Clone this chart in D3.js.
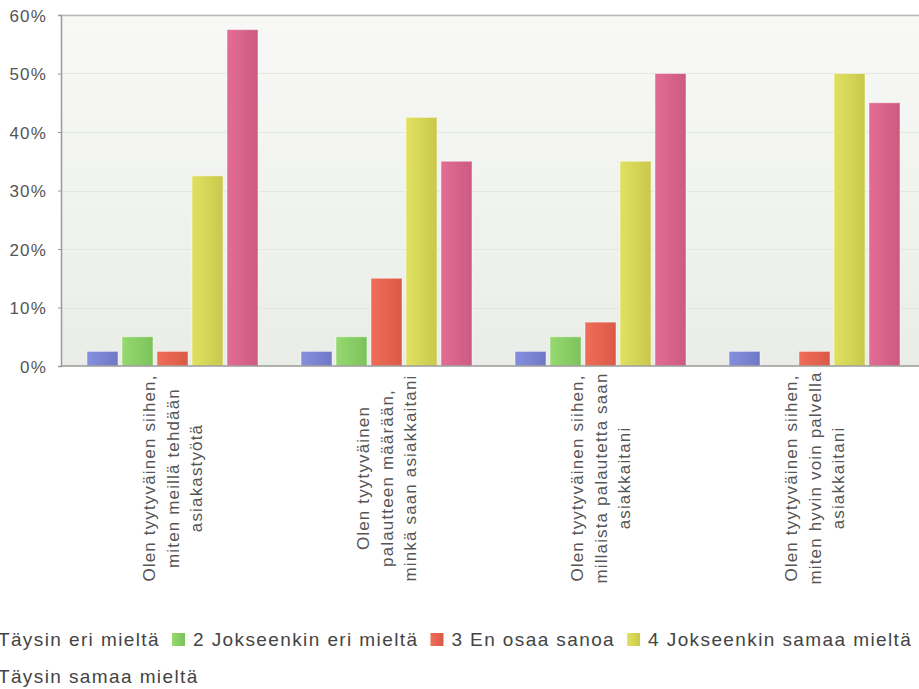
<!DOCTYPE html>
<html>
<head>
<meta charset="utf-8">
<script src="https://cdn.jsdelivr.net/npm/d3@7"></script>
<style>
  html, body { margin: 0; padding: 0; background: #fff; overflow: hidden; }
  svg { display: block; font-family: "Liberation Sans", Arial, sans-serif; }
</style>
</head>
<body>
<svg id="chart" width="919" height="689"></svg>
<script>
// Survey statements (category axis), each split into its display lines
const categories = [
  ["Olen tyytyväinen siihen,", "miten meillä tehdään", "asiakastyötä"],
  ["Olen tyytyväinen", "palautteen määrään,", "minkä saan asiakkaitani"],
  ["Olen tyytyväinen siihen,", "millaista palautetta saan", "asiakkaitani"],
  ["Olen tyytyväinen siihen,", "miten hyvin voin palvella", "asiakkaitani"]
];

// Answer options (series)
const seriesNames = [
  "1 Täysin eri mieltä",
  "2 Jokseenkin eri mieltä",
  "3 En osaa sanoa",
  "4 Jokseenkin samaa mieltä",
  "5 Täysin samaa mieltä"
];

// Share of answers (%) per option, one value per statement
const s1 = [2.5, 2.5, 2.5, 2.5];
const s2 = [5, 5, 5, 0];
const s3 = [2.5, 15, 7.5, 2.5];
const s4 = [32.5, 42.5, 35, 50];
const s5 = [57.5, 35, 50, 45];
const seriesValues = [s1, s2, s3, s4, s5];

const yTicks = [0, 10, 20, 30, 40, 50, 60];

// Colour pairs (light edge, dark edge) for each series
const seriesColors = [
  ["#858fdf", "#6e78c6"],
  ["#96d971", "#7cc25a"],
  ["#f06e58", "#da5946"],
  ["#e0e160", "#c9c84d"],
  ["#e26c94", "#cd5a82"]
];

const svg = d3.select("#chart");
const defs = svg.append("defs");

const plot = { left: 61, top: 14, bottom: 366, right: 919 };

// plot background gradient
const bg = defs.append("linearGradient").attr("id", "bgGrad")
  .attr("x1", 0).attr("y1", 0).attr("x2", 0).attr("y2", 1);
bg.append("stop").attr("offset", "0%").attr("stop-color", "#f8f9f7");
bg.append("stop").attr("offset", "100%").attr("stop-color", "#eaede7");

seriesColors.forEach((c, i) => {
  const g = defs.append("linearGradient").attr("id", "barGrad" + i)
    .attr("x1", 0).attr("y1", 0).attr("x2", 1).attr("y2", 0);
  g.append("stop").attr("offset", "0%").attr("stop-color", c[0]);
  g.append("stop").attr("offset", "100%").attr("stop-color", c[1]);
});

svg.append("rect")
  .attr("x", plot.left).attr("y", plot.top)
  .attr("width", plot.right - plot.left).attr("height", plot.bottom - plot.top)
  .attr("fill", "url(#bgGrad)");

const y = d3.scaleLinear().domain([0, 60]).range([366, 15]);

const x0 = d3.scaleBand()
  .domain(d3.range(categories.length))
  .range([65.5, 65.5 + 214 * categories.length]);

const x1 = d3.scaleBand()
  .domain(d3.range(seriesNames.length))
  .range([19.5, 194.5])
  .paddingInner(4 / 35)
  .paddingOuter(2 / 35);

// horizontal grid lines
svg.append("g").selectAll("line")
  .data(yTicks.filter(t => t > 0))
  .join("line")
  .attr("x1", plot.left).attr("x2", plot.right)
  .attr("y1", d => Math.round(y(d)) + 0.5).attr("y2", d => Math.round(y(d)) + 0.5)
  .attr("stroke", d => d === 60 ? "#b8b8b8" : "#e3e6e1")
  .attr("stroke-width", d => d === 60 ? 1.5 : 1);

// bars
const groups = svg.append("g").selectAll("g")
  .data(seriesValues)
  .join("g")
  .attr("fill", (d, i) => `url(#barGrad${i})`);

groups.each(function(vals, si) {
  d3.select(this).selectAll("rect")
    .data(vals.map((v, ci) => ({ v, ci })).filter(d => d.v > 0))
    .join("rect")
    .attr("x", d => x0(d.ci) + x1(si))
    .attr("width", x1.bandwidth())
    .attr("y", d => y(d.v))
    .attr("height", d => y(0) - y(d.v))
    .attr("stroke", "rgba(255,255,255,0.45)")
    .attr("stroke-width", 1);
});

// y axis
const yAxis = d3.axisLeft(y)
  .tickValues(yTicks)
  .tickFormat(d => d + "%")
  .tickSize(3)
  .tickPadding(11);

const yg = svg.append("g")
  .attr("transform", `translate(${plot.left},0)`)
  .call(yAxis);
yg.select(".domain").attr("stroke", "#9a9a9a").attr("stroke-width", 1.5);
yg.selectAll(".tick line").attr("stroke", "#9a9a9a");
yg.selectAll(".tick text")
  .attr("fill", "#555")
  .attr("dy", "0.36em")
  .style("font-size", "17px")
  .style("letter-spacing", "1.2px")
  .style("font-family", "Liberation Sans, Arial, sans-serif");

// x axis baseline
const xAxis = d3.axisBottom(x0).tickSize(0).tickFormat("");
const xg = svg.append("g")
  .attr("transform", `translate(0,${y(0)})`)
  .call(xAxis);
xg.select(".domain").attr("d", `M${plot.left},0H${plot.right}`)
  .attr("stroke", "#9a9a9a").attr("stroke-width", 1.5);

// rotated, multi-line category labels
const labelCenterY = 478;
const lineStep = 23.5;
const catLabels = svg.append("g").selectAll("text")
  .data(categories)
  .join("text")
  .attr("transform", (d, i) => {
    const cx = x0(i) + x0.bandwidth() / 2;
    return `translate(${cx},${labelCenterY}) rotate(-90)`;
  })
  .attr("text-anchor", "middle")
  .attr("fill", "#555")
  .style("font-size", "17px")
  .style("letter-spacing", "1.15px");

catLabels.each(function(lines) {
  const t = d3.select(this);
  const mid = (lines.length - 1) / 2;
  lines.forEach((line, k) => {
    t.append("tspan")
      .attr("x", 0)
      .attr("y", (k - mid) * lineStep + 6)
      .text(line);
  });
});

// legend
const legend = svg.append("g")
  .style("font-size", "19px")
  .style("letter-spacing", "1.4px")
  .attr("fill", "#444");
const sw = 13, gapSwatch = 8, gapItem = 12;
const measure = legend.append("text").attr("visibility", "hidden");
const widths = seriesNames.map(n => { measure.text(n); return measure.node().getComputedTextLength(); });
measure.remove();

const startX = 172 - (sw + gapSwatch + widths[0] + gapItem);
const rows = [{ items: [0, 1, 2, 3], y: 646 }, { items: [4], y: 683 }];
rows.forEach(r => {
  let cx = startX;
  r.items.forEach(i => {
    legend.append("rect")
      .attr("x", cx).attr("y", r.y - 13)
      .attr("width", sw).attr("height", sw)
      .attr("fill", `url(#barGrad${i})`);
    legend.append("text")
      .attr("x", cx + sw + gapSwatch).attr("y", r.y)
      .text(seriesNames[i]);
    cx += sw + gapSwatch + widths[i] + gapItem;
  });
});
</script>
</body>
</html>
